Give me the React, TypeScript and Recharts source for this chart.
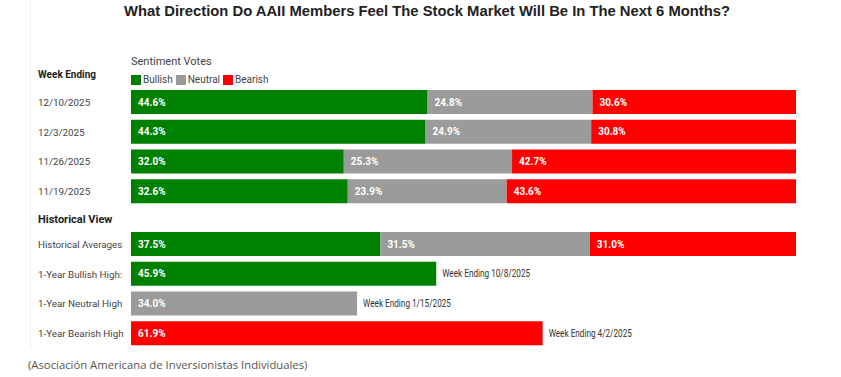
import { BarChart, Bar, XAxis, YAxis, LabelList } from 'recharts';

const title = 'What Direction Do AAII Members Feel The Stock Market Will Be In The Next 6 Months?';
const footer = '(Asociación Americana de Inversionistas Individuales)';

const weekLabels = ['12/10/2025', '12/3/2025', '11/26/2025', '11/19/2025'];
const weekBullish = [44.6, 44.3, 32.0, 32.6];
const weekNeutral = [24.8, 24.9, 25.3, 23.9];
const weekBearish = [30.6, 30.8, 42.7, 43.6];

const histLabels = ['Historical Averages', '1-Year Bullish High:', '1-Year Neutral High', '1-Year Bearish High'];
const histBullish = [37.5, 45.9, 0, 0];
const histNeutral = [31.5, 0, 34.0, 0];
const histBearish = [31.0, 0, 0, 61.9];
const histNotes = ['', 'Week Ending 10/8/2025', 'Week Ending 1/15/2025', 'Week Ending 4/2/2025'];

const GREEN = '#008000';
const GRAY = '#9b9b9b';
const RED = '#ff0000';
const FONT = 'Roboto, "DejaVu Sans", sans-serif';

// build rows for recharts
const weekData = weekLabels.map((label, i) => ({
  label,
  bullish: weekBullish[i],
  neutral: weekNeutral[i],
  bearish: weekBearish[i],
  note: '',
}));

const histData = histLabels.map((label, i) => ({
  label,
  bullish: histBullish[i],
  neutral: histNeutral[i],
  bearish: histBearish[i],
  note: histNotes[i],
}));

function RowTick({ y, payload }: any) {
  return (
    <text x={38} y={y} dy={4} textAnchor="start" fontSize={9.8} fill="#444" fontFamily={FONT}>
      {payload.value}
    </text>
  );
}

// white value inside each segment, plus the "Week Ending" note after the last one.
// LabelList gets the row label as its value, so zero-width segments can't shift rows.
function makeLabel(rows: any[], key: string) {
  return (props: any) => {
    const { x, y, width, height, value: label } = props;
    const row = rows.find((r) => r.label === label);
    if (!row) return null;
    const value = row[key];
    if (!value) return null;
    const keys = ['bullish', 'neutral', 'bearish'];
    const lastKey = keys.filter((k) => row[k] > 0).pop();
    const cy = Number(y) + Number(height) / 2;
    const noteX = Number(x) + Number(width) + 6;
    return (
      <g>
        <text
          x={Number(x) + 7}
          y={cy}
          dy={3.5}
          fontSize={10}
          fontWeight="bold"
          fill="#fff"
          fontFamily={FONT}
        >
          {value.toFixed(1)}%
        </text>
        {row.note && lastKey === key && (
          // the original note font is a condensed face, so squeeze it a bit
          <text
            transform={`translate(${noteX}, ${cy + 3.5}) scale(0.82, 1)`}
            fontSize={10}
            fill="#333"
            fontFamily={FONT}
          >
            {row.note}
          </text>
        )}
      </g>
    );
  };
}

function SentimentBars({ data }: { data: any[] }) {
  return (
    <BarChart
      width={841}
      height={119}
      data={data}
      layout="vertical"
      margin={{ top: 0, right: 45, bottom: 0, left: 0 }}
      barSize={24}
    >
      <XAxis type="number" domain={[0, 100]} allowDataOverflow hide />
      <YAxis
        type="category"
        dataKey="label"
        width={131}
        axisLine={false}
        tickLine={false}
        tick={<RowTick />}
      />
      <Bar dataKey="bullish" stackId="s" fill={GREEN} isAnimationActive={false}>
        <LabelList dataKey="label" content={makeLabel(data, 'bullish')} />
      </Bar>
      <Bar dataKey="neutral" stackId="s" fill={GRAY} isAnimationActive={false}>
        <LabelList dataKey="label" content={makeLabel(data, 'neutral')} />
      </Bar>
      <Bar dataKey="bearish" stackId="s" fill={RED} isAnimationActive={false}>
        <LabelList dataKey="label" content={makeLabel(data, 'bearish')} />
      </Bar>
    </BarChart>
  );
}

function LegendItem({ color, text }: { color: string; text: string }) {
  return (
    <span style={{ display: 'inline-flex', alignItems: 'center', marginRight: 3 }}>
      <span style={{ width: 10, height: 10, background: color, display: 'inline-block', marginRight: 2 }} />
      <span>{text}</span>
    </span>
  );
}

export default function App() {
  return (
    <div
      style={{
        position: 'absolute',
        left: 0,
        top: 0,
        width: 841,
        height: 377,
        background: '#fff',
        fontFamily: FONT,
        overflow: 'hidden',
      }}
    >
      <div style={{ position: 'absolute', left: 30, top: 0, width: 0, height: 348, borderLeft: '1px solid #f0f0f0' }} />
      <div
        style={{
          position: 'absolute',
          left: 0,
          width: 854,
          top: 3,
          textAlign: 'center',
          fontFamily: '"Liberation Sans", Arial, sans-serif',
          fontWeight: 'bold',
          fontSize: 14.8,
          color: '#222',
        }}
      >
        {title}
      </div>
      <div style={{ position: 'absolute', left: 131, top: 55, fontSize: 11, color: '#444' }}>Sentiment Votes</div>
      <div style={{ position: 'absolute', left: 131, top: 74, fontSize: 10, color: '#444', display: 'flex' }}>
        <LegendItem color={GREEN} text="Bullish" />
        <LegendItem color={GRAY} text="Neutral" />
        <LegendItem color={RED} text="Bearish" />
      </div>
      <div style={{ position: 'absolute', left: 38, top: 69, fontSize: 10, fontWeight: 'bold', color: '#222' }}>
        Week Ending
      </div>
      <div style={{ position: 'absolute', left: 0, top: 86.5 }}>
        <SentimentBars data={weekData} />
      </div>
      <div style={{ position: 'absolute', left: 38, top: 213, fontSize: 11, fontWeight: 'bold', color: '#222' }}>
        Historical View
      </div>
      <div style={{ position: 'absolute', left: 0, top: 228.5 }}>
        <SentimentBars data={histData} />
      </div>
      <div
        style={{
          position: 'absolute',
          left: 28,
          top: 357,
          fontSize: 11.3,
          color: '#555',
          fontFamily: '"Open Sans", sans-serif',
        }}
      >
        {footer}
      </div>
    </div>
  );
}
